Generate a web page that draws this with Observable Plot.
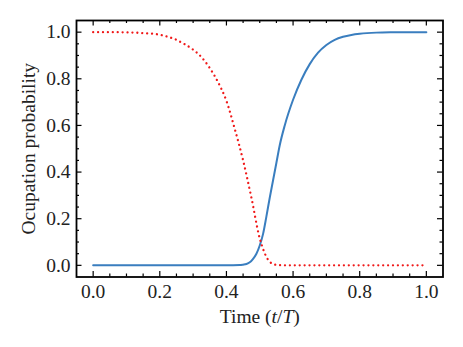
<!DOCTYPE html>
<html><head><meta charset="utf-8">
<script src="https://cdn.jsdelivr.net/npm/d3@7"></script>
<script src="https://cdn.jsdelivr.net/npm/@observablehq/plot@0.6"></script>
<style>
html,body{margin:0;padding:0;background:#fff}
svg{display:block}
#chart svg text{font-family:"Liberation Serif","Times New Roman",Times,serif !important;font-size:19.5px !important;}
</style>
</head><body><div id="chart"></div>
<script>
// Red dotted series (decaying population)
const tRed = [0,0.05,0.1,0.15,0.2,0.225,0.25,0.275,0.3,0.325,0.35,0.375,0.4,0.425,0.45,0.475,0.5,0.51,0.52,0.53,0.54,0.55,0.575,0.6,0.7,0.8,0.9,1.0];
const pRed = [1,1,0.999,0.996,0.989,0.980,0.967,0.948,0.925,0.893,0.846,0.785,0.705,0.585,0.450,0.290,0.115,0.07,0.036,0.015,0.006,0.002,0,0,0,0,0,0];
// Blue solid series (rising population)
const tBlue = [0,0.1,0.2,0.3,0.4,0.44,0.45,0.46,0.47,0.48,0.49,0.5,0.51,0.52,0.53,0.54,0.55,0.56,0.575,0.6,0.625,0.65,0.675,0.7,0.725,0.75,0.775,0.8,0.85,0.9,0.95,1.0];
const pBlue = [0,0,0,0,0,0.001,0.003,0.006,0.013,0.028,0.05,0.085,0.135,0.21,0.29,0.365,0.44,0.515,0.6,0.71,0.796,0.863,0.912,0.945,0.967,0.98,0.988,0.993,0.998,0.9995,1,1];
const majorTicks = [0,0.2,0.4,0.6,0.8,1.0];
const minorTicks = [0.05,0.1,0.15,0.25,0.3,0.35,0.45,0.5,0.55,0.65,0.7,0.75,0.85,0.9,0.95];
const xLabel = "Time (t/T)";
const yLabel = "Ocupation probability";

const red = tRed.map((t, i) => ({t, p: pRed[i]}));
const blue = tBlue.map((t, i) => ({t, p: pBlue[i]}));

const W = 463, H = 347, mL = 76, mR = 20.5, mT = 20, mB = 70.5;
const plotH = H - mT - mB, plotW = W - mL - mR;
const majL = 5.5, minL = 3;
const tickStyle = {stroke: "black", strokeWidth: 1.2};

const chart = Plot.plot({
  width: W, height: H,
  marginLeft: mL, marginRight: mR, marginTop: mT, marginBottom: mB,
  style: {fontFamily: "Liberation Serif, serif", fontSize: "19.5px", color: "#222", background: "white"},
  x: {domain: [-0.05, 1.05]},
  y: {domain: [-0.05, 1.05]},
  marks: [
    Plot.tickX(majorTicks, {x: d => d, insetTop: plotH - majL, ...tickStyle}),
    Plot.tickX(majorTicks, {x: d => d, insetBottom: plotH - majL, ...tickStyle}),
    Plot.tickX(minorTicks, {x: d => d, insetTop: plotH - minL, ...tickStyle}),
    Plot.tickX(minorTicks, {x: d => d, insetBottom: plotH - minL, ...tickStyle}),
    Plot.tickY(majorTicks, {y: d => d, insetRight: plotW - majL, ...tickStyle}),
    Plot.tickY(majorTicks, {y: d => d, insetLeft: plotW - majL, ...tickStyle}),
    Plot.tickY(minorTicks, {y: d => d, insetRight: plotW - minL, ...tickStyle}),
    Plot.tickY(minorTicks, {y: d => d, insetLeft: plotW - minL, ...tickStyle}),
    Plot.axisX({ticks: majorTicks, tickSize: 0, tickPadding: 7, tickFormat: d => d.toFixed(1), label: null, fill: "#222"}),
    Plot.axisY({ticks: majorTicks, tickSize: 0, tickPadding: 6, tickFormat: d => d.toFixed(1), label: null, fill: "#222"}),
    Plot.line(blue, {x: "t", y: "p", stroke: "#3a7ebf", strokeWidth: 2, curve: "monotone-x"}),
    Plot.line(red, {x: "t", y: "p", stroke: "#f01818", strokeWidth: 2.3, strokeDasharray: "0.01,4.9", strokeLinecap: "round", curve: "monotone-x"}),
    Plot.frame({stroke: "black", strokeWidth: 1.8}),
    Plot.text([xLabel], {frameAnchor: "bottom", dy: 40, text: d => d, textAnchor: "middle", lineAnchor: "middle", fill: "#222"}),
    Plot.text([yLabel], {frameAnchor: "left", dx: -48, rotate: -90, text: d => d, textAnchor: "middle", lineAnchor: "middle", fill: "#222"})
  ]
});
document.getElementById("chart").appendChild(chart);

// italic t and T in the x label
d3.select(chart).selectAll("text").filter(function() { return this.textContent === xLabel; })
  .each(function() {
    const el = d3.select(this);
    el.text(null);
    el.append("tspan").text("Time (");
    el.append("tspan").attr("font-style", "italic").text("t");
    el.append("tspan").text("/");
    el.append("tspan").attr("font-style", "italic").text("T");
    el.append("tspan").text(")");
  });
</script>
</body></html>
